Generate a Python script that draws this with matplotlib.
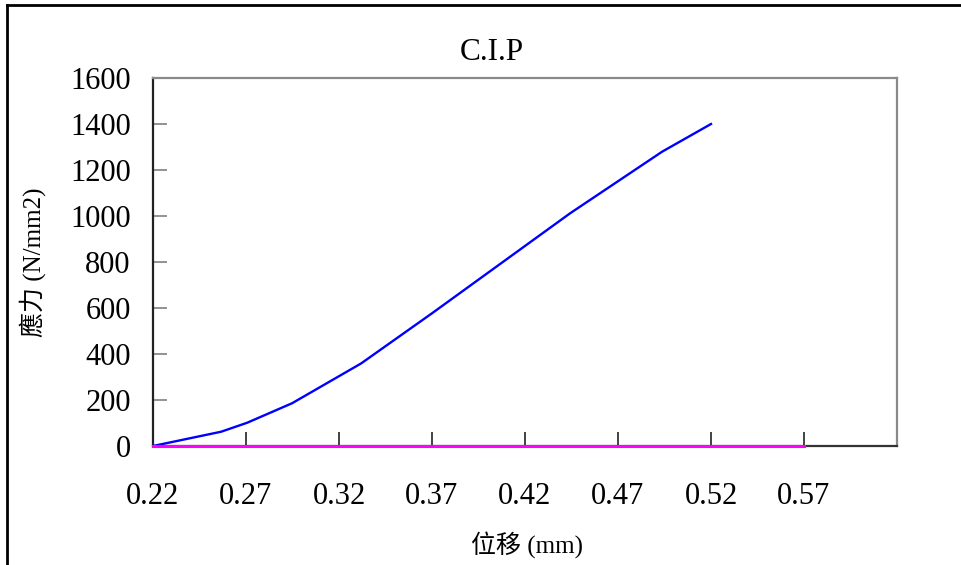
import matplotlib
matplotlib.use("Agg")
import matplotlib.pyplot as plt
from matplotlib.lines import Line2D

plt.rcParams['font.family'] = ['Liberation Serif', 'Noto Sans CJK TC']

# Stress-displacement curve
displacement = [0.22, 0.2566, 0.2706, 0.2948, 0.3319, 0.37, 0.4443, 0.4938, 0.52]
stress = [0, 62, 101, 186, 359, 577, 1012, 1280, 1400]

# Baseline series
base_x = [0.22, 0.57]
base_y = [0, 0]

x_ticks = [0.22, 0.27, 0.32, 0.37, 0.42, 0.47, 0.52, 0.57, 0.62]
x_tick_labels = ['0.22', '0.27', '0.32', '0.37', '0.42', '0.47', '0.52', '0.57', '']
y_ticks = [0, 200, 400, 600, 800, 1000, 1200, 1400, 1600]

title = 'C.I.P'
x_label = '位移 (mm)'
y_label = '應力 (N/mm2)'

W, H = 961, 565
fig = plt.figure(figsize=(W / 100, H / 100), dpi=100)
ax = fig.add_axes([153 / W, 1 - 446 / H, (897 - 153) / W, (446 - 78) / H])

ax.plot(displacement, stress, color='#0000ff', lw=1.7, solid_joinstyle='round', zorder=3)
ax.plot(base_x, base_y, color='#ff00ff', lw=2.2, clip_on=False, zorder=4)

ax.set_xlim(0.22, 0.62)
ax.set_ylim(0, 1600)
ax.set_xticks(x_ticks)
ax.set_xticklabels(x_tick_labels)
ax.set_yticks(y_ticks)

ax.tick_params(axis='x', direction='in', length=10, width=1.2, color='#222222',
               labelsize=22, pad=26)
ax.tick_params(axis='y', direction='in', length=10, width=1.2, color='#808080',
               labelsize=22, pad=16)

ax.spines['left'].set_color('#222222')
ax.spines['bottom'].set_color('#333333')
ax.spines['top'].set_color('#8a8a8a')
ax.spines['right'].set_color('#8a8a8a')
for s in ax.spines.values():
    s.set_linewidth(1.6)

fig.text(492 / W, 1 - 52 / H, title, ha='center', va='center', fontsize=22.5)
fig.text(527 / W, 1 - 545 / H, x_label, ha='center', va='center', fontsize=18)
fig.text(33 / W, 1 - 262 / H, y_label, ha='center', va='center', fontsize=18, rotation=90)

# Outer frame along the left and top edges
fig.add_artist(Line2D([7 / W, 7 / W], [0, 1 - 5 / H], transform=fig.transFigure,
                      color='black', lw=2))
fig.add_artist(Line2D([7 / W, 1], [1 - 5 / H, 1 - 5 / H], transform=fig.transFigure,
                      color='black', lw=2))

fig.savefig('out.png', dpi=100, facecolor='white')
